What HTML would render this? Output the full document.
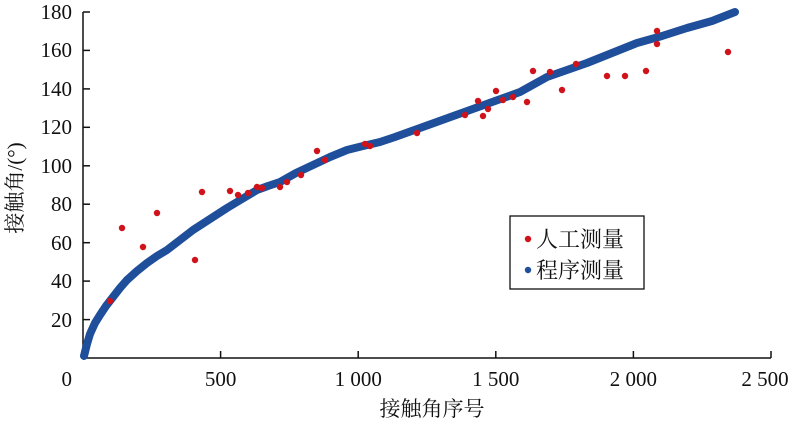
<!DOCTYPE html>
<html><head><meta charset="utf-8"><style>
html,body{margin:0;padding:0;background:#fff;}
svg text{font-family:"Liberation Serif","Noto Serif CJK SC",serif;fill:#111;}
</style></head><body>
<svg width="800" height="425" viewBox="0 0 800 425" xmlns="http://www.w3.org/2000/svg">
<g stroke="#111" stroke-width="1.5" fill="none">
<line x1="83" y1="12" x2="83" y2="358"/>
<line x1="83" y1="358" x2="771" y2="358"/>
<line x1="83" y1="12" x2="90" y2="12"/>
<line x1="83" y1="50.4" x2="90" y2="50.4"/>
<line x1="83" y1="88.9" x2="90" y2="88.9"/>
<line x1="83" y1="127.3" x2="90" y2="127.3"/>
<line x1="83" y1="165.8" x2="90" y2="165.8"/>
<line x1="83" y1="204.2" x2="90" y2="204.2"/>
<line x1="83" y1="242.7" x2="90" y2="242.7"/>
<line x1="83" y1="281.1" x2="90" y2="281.1"/>
<line x1="83" y1="319.6" x2="90" y2="319.6"/>
<line x1="220.6" y1="358" x2="220.6" y2="351"/>
<line x1="358.2" y1="358" x2="358.2" y2="351"/>
<line x1="495.8" y1="358" x2="495.8" y2="351"/>
<line x1="633.4" y1="358" x2="633.4" y2="351"/>
<line x1="771" y1="358" x2="771" y2="351"/>
</g>
<g font-size="21" text-anchor="end">
<text x="72" y="19">180</text><text x="72" y="57">160</text><text x="72" y="96">140</text>
<text x="72" y="134">120</text><text x="72" y="173">100</text><text x="72" y="211">80</text>
<text x="72" y="250">60</text><text x="72" y="288">40</text><text x="72" y="327">20</text>
<text x="72" y="386">0</text>
</g>
<g font-size="21" text-anchor="middle">
<text x="220.6" y="386">500</text><text x="358.2" y="386">1 000</text>
<text x="495.8" y="386">1 500</text><text x="633.4" y="386">2 000</text><text x="765" y="386">2 500</text>
<text x="432" y="416">接触角序号</text>
<text transform="translate(22,188) rotate(-90)">接触角/(°)</text>
</g>
<polyline fill="none" stroke="#1f4e9a" stroke-width="8" stroke-linecap="round" stroke-linejoin="round"
points="84,356 87,344 90,334 95,323 100,315 106,306 113,297 120,288 127,280 137,271 147,263 157,256 167,250 180,240 193,230 210,219 227,208 242,199 257,190 268,186 280,182 296,173 313,165 330,157 347,150 363,146 380,142 395,137 420,128 445,119 470,110 495,101 520,92 547,77 567,70 587,63 612,53 637,43 662,36 687,28 712,21 735,12"/>
<g fill="#d0121b">
<circle cx="110" cy="301" r="3.2"/><circle cx="122" cy="228" r="3.2"/><circle cx="143" cy="247" r="3.2"/>
<circle cx="157" cy="213" r="3.2"/><circle cx="195" cy="260" r="3.2"/><circle cx="202" cy="192" r="3.2"/>
<circle cx="230" cy="191" r="3.2"/><circle cx="238" cy="195" r="3.2"/><circle cx="248" cy="193" r="3.2"/>
<circle cx="257" cy="187" r="3.2"/><circle cx="262" cy="188" r="3.2"/><circle cx="280" cy="187" r="3.2"/>
<circle cx="287" cy="182" r="3.2"/><circle cx="301" cy="175" r="3.2"/><circle cx="317" cy="151" r="3.2"/>
<circle cx="325" cy="160" r="3.2"/><circle cx="365" cy="144" r="3.2"/><circle cx="370" cy="146" r="3.2"/>
<circle cx="417" cy="133" r="3.2"/><circle cx="465" cy="115" r="3.2"/><circle cx="478" cy="101" r="3.2"/>
<circle cx="483" cy="116" r="3.2"/><circle cx="488" cy="109" r="3.2"/><circle cx="496" cy="91" r="3.2"/>
<circle cx="503" cy="100" r="3.2"/><circle cx="513" cy="97" r="3.2"/><circle cx="527" cy="102" r="3.2"/>
<circle cx="533" cy="71" r="3.2"/><circle cx="550" cy="72" r="3.2"/><circle cx="562" cy="90" r="3.2"/>
<circle cx="576" cy="64" r="3.2"/><circle cx="607" cy="76" r="3.2"/><circle cx="625" cy="76" r="3.2"/>
<circle cx="646" cy="71" r="3.2"/><circle cx="657" cy="31" r="3.2"/><circle cx="657" cy="44" r="3.2"/>
<circle cx="728" cy="52" r="3.2"/>
</g>
<rect x="510" y="216" width="134" height="73" fill="#fff" stroke="#111" stroke-width="1.3"/>
<circle cx="528" cy="239" r="3.2" fill="#d0121b"/>
<circle cx="528" cy="270" r="3.2" fill="#1f4e9a"/>
<g font-size="22"><text x="536" y="247">人工测量</text><text x="536" y="278">程序测量</text></g>
</svg>
</body></html>
